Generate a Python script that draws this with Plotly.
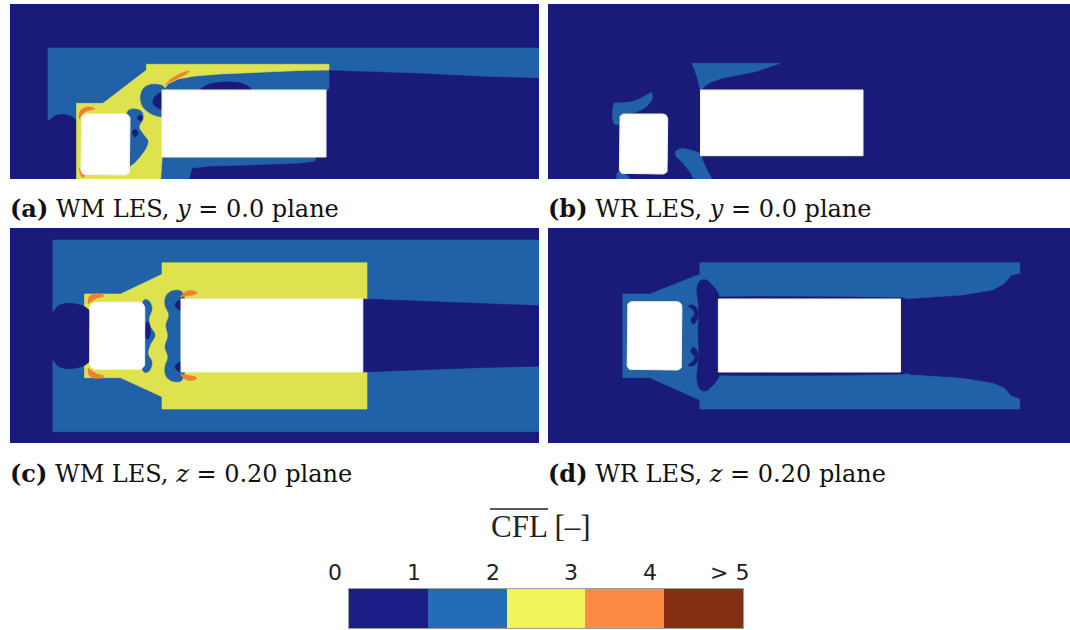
import math
import plotly.graph_objects as go

W, H = 1070, 630

# ---------------- data ----------------
CFL_LEVELS = [0, 1, 2, 3, 4]
CFL_TICK_LABELS = ["0", "1", "2", "3", "4", "> 5"]
FIELD_COLORS = ["#1a1a7b", "#2161a8", "#dee24e", "#ef7e36", "#852e12"]
CBAR_COLORS = ["#1c1c86", "#246cb6", "#f2f55a", "#fe8b43", "#852e12"]

PANEL_BOXES = [(10, 539, 4, 179), (548, 1070, 4, 179), (10, 539, 228, 443), (548, 1070, 228, 443)]
PANEL_CAPTIONS = [
    "<b>(a)</b> WM LES, <i>y</i> = 0.0 plane",
    "<b>(b)</b> WR LES, <i>y</i> = 0.0 plane",
    "<b>(c)</b> WM LES, <i>z</i> = 0.20 plane",
    "<b>(d)</b> WR LES, <i>z</i> = 0.20 plane",
]

# Region outlines: (CFL level, smooth outline, x list, y list) in image pixel units
# ---- panel (a) ----
A_BLUE = (1, False, [48, 545, 545, 480, 420, 360, 329, 329, 326, 315, 300, 250, 210, 192, 186, 48],
          [48, 48, 78, 76, 73, 71, 70, 88, 92, 161, 163, 165, 166, 168, 190, 190])
A_DOME = (0, True, [40, 48, 55, 63, 71, 76.5, 78, 78, 40], [122, 121, 116, 114.5, 116.5, 121, 140, 195, 195])
A_YELLOW = (2, False, [76.5, 103, 146.5, 146.5, 329, 329, 300, 260, 220, 195, 178, 168, 162, 162, 160, 76.5],
            [103.3, 103.3, 70, 64.3, 64.3, 70, 70.5, 72, 74, 76, 79, 84, 92, 160, 190, 190])
A_NAVY_TOP = (0, True, [198, 205, 215, 230, 244, 252, 252, 198], [92, 86, 83, 82, 84, 90, 96, 96])
A_BLUE_B1 = (1, True, [164, 157, 149, 143, 140.5, 143, 150, 157, 164], [87, 84.5, 85, 89, 98, 107, 113, 116, 116])
A_NAVY_B1 = (0, True, [164, 158, 154, 153, 156, 160, 164], [92, 94, 98, 103, 107, 109, 109])
A_BLUE_B2 = (1, True, [128, 135, 142, 143, 139, 143, 148, 146, 142, 138, 133, 128],
             [111, 109, 112, 119, 127, 134, 141, 148, 154, 159, 164, 166])
A_NAVY_D1 = (0, True, [137, 140, 142.5, 140, 137], [118, 115, 118, 121, 118])
A_NAVY_D2 = (0, True, [132, 135, 138, 135, 132], [133, 129, 133, 137, 133])
A_ORANGE_1 = (3, True, [79, 80, 84, 90, 95, 90, 85, 81, 79], [119, 111, 108, 107, 109, 110, 112, 116, 119])
A_ORANGE_2 = (3, True, [165, 171, 180, 189, 187, 178, 169, 165], [85, 79, 74, 71, 73.5, 78, 83, 85])
A_ORANGE_3 = (3, True, [79, 81, 85, 82, 79], [168, 170, 176, 177, 168])
A_SQUARE = (81, 130, 114, 175, 5)
A_RECT = (162, 326, 90, 157, 0)

# ---- panel (b) ----
B_BLUE_TOP = (1, False, [692, 780, 756, 735, 722, 711, 705, 700.5, 699.5, 697.4, 694.7, 692],
              [63.3, 63.3, 71.5, 75.5, 78.3, 82, 86, 91, 86.7, 78, 70, 63.3])
B_BLUE_HOOK = (1, True, [614.3, 614.3, 620, 634, 645, 651.5, 652, 648, 641, 632, 622, 619.4, 619.4],
               [124, 103.3, 103, 101, 96, 92.5, 99, 105, 110, 113, 115, 118, 124])
B_BLUE_BOT = (1, True, [676, 682, 690, 700.5, 703, 707, 714, 699, 690, 681, 676],
              [151, 148.5, 150, 154, 161, 170, 186, 186, 172, 161, 156])
B_BLUE_SMALL = (1, True, [618, 623, 628, 630, 618], [172, 173, 176, 186, 186])
B_SQUARE = (619.4, 667.7, 114, 174, 5)
B_RECT = (700.5, 863, 90, 155.7, 0)

# ---- panel (c) ----
C_BLUE = (1, False, [52.8, 545, 545, 52.8], [240, 240, 431.7, 431.7])
C_YELLOW = (2, False, [84.5, 120.7, 162, 162, 367, 367, 162, 162, 120.7, 84.5],
            [294, 294, 274.3, 262.7, 262.7, 409, 409, 396.7, 377.7, 377.7])
C_WAKE = (0, False, [362.8, 413.8, 482.8, 545, 545, 482.8, 413.8, 362.8],
          [299, 301, 304.3, 306, 366, 367.5, 370, 372])
C_DOME = (0, True, [45, 52.8, 58, 66, 76, 85, 90, 90, 85, 76, 66, 58, 52.8, 45],
          [313, 312, 306, 303.5, 304, 307, 312, 360, 365, 368, 368.5, 366, 360, 359])
C_BLUE_STRIP = (1, True, [144, 149, 152, 149, 150, 155, 150, 148, 152, 149, 144],
                [300, 301, 309, 318, 326, 335, 345, 354, 362, 371, 372])
C_NAVY_STRIP = (0, True, [146, 148, 150.5, 148, 146], [323, 322, 331, 339, 338])
C_BLUE_BLOB = (1, True, [182, 172, 166, 165, 169, 166, 168, 165, 168, 165, 166, 172, 182],
               [292, 291, 296, 305, 315, 325, 336, 347, 357, 367, 376, 381, 380])
C_NAVY_D1 = (0, True, [182, 178, 175, 178, 182], [300, 301, 305, 309, 310])
C_NAVY_D2 = (0, True, [182, 178, 175, 178, 182], [362, 363, 367, 371, 372])
C_ORANGE_1 = (3, True, [88, 89, 94, 101, 104, 97, 92, 88], [304, 297, 294, 294, 296, 298, 301, 304])
C_ORANGE_2 = (3, True, [88, 89, 94, 101, 104, 97, 92, 88], [368, 375, 378, 378, 376, 374, 371, 368])
C_ORANGE_3 = (3, True, [180, 185, 192, 197, 193, 186, 180], [297, 292, 290.5, 293, 295, 296, 297])
C_ORANGE_4 = (3, True, [180, 185, 192, 197, 193, 186, 180], [374, 379, 380.5, 378, 376, 375, 374])
C_SQUARE = (89.7, 144.8, 302.3, 369.3, 6)
C_RECT = (181, 362.8, 299, 372, 0)

# ---- panel (d) ----
D_BLUE = (1, False,
          [699.8, 1019.7, 1019.7, 1011.3, 1004.5, 992.7, 962.3, 911.6, 900.5, 900.5, 911.6, 962.3, 992.7,
           1004.5, 1011, 1019.7, 1019.7, 699.8, 699.8, 649.8, 622.8, 622.8, 649.8, 699.8],
          [262.7, 262.7, 273.3, 275, 283.3, 290, 295, 297.7, 299, 372, 375, 378.3, 383.3,
           388.3, 396, 399, 409, 409, 400, 377.7, 377.7, 294, 294, 274.3])
D_NAVY_TOP = (0, False, [712, 760, 850, 905, 905, 712], [297, 296.6, 297, 298, 301, 301])
D_NAVY_BOT = (0, False, [712, 760, 850, 905, 905, 712], [375, 375.4, 375, 374, 370, 370])
D_NAVY_BLOB = (0, True, [719, 712, 706, 700, 697, 698, 699, 698, 699, 698, 697, 700, 706, 712, 719],
               [296, 285, 280, 281, 288, 300, 315, 330, 350, 365, 380, 389, 391, 386, 376])
D_NAVY_C1 = (0, True, [688, 693, 698, 697, 693, 691, 695, 692, 688], [306, 305, 311, 320, 324, 319, 314, 309, 306])
D_NAVY_C2 = (0, True, [688, 693, 698, 697, 693, 691, 695, 692, 688], [365, 366, 360, 351, 347, 352, 357, 362, 365])
D_SQUARE = (627.2, 681.9, 301.7, 370, 5)
D_RECT = (718.4, 900.5, 299, 372, 0)

PANEL_REGIONS = [
    [A_BLUE, A_DOME, A_YELLOW, A_NAVY_TOP, A_BLUE_B1, A_NAVY_B1, A_BLUE_B2, A_NAVY_D1, A_NAVY_D2,
     A_ORANGE_1, A_ORANGE_2, A_ORANGE_3],
    [B_BLUE_TOP, B_BLUE_HOOK, B_BLUE_BOT, B_BLUE_SMALL],
    [C_BLUE, C_YELLOW, C_WAKE, C_DOME, C_BLUE_STRIP, C_NAVY_STRIP, C_BLUE_BLOB, C_NAVY_D1, C_NAVY_D2,
     C_ORANGE_1, C_ORANGE_2, C_ORANGE_3, C_ORANGE_4],
    [D_BLUE, D_NAVY_TOP, D_NAVY_BOT, D_NAVY_BLOB, D_NAVY_C1, D_NAVY_C2],
]
PANEL_OBSTACLES = [[A_SQUARE, A_RECT], [B_SQUARE, B_RECT], [C_SQUARE, C_RECT], [D_SQUARE, D_RECT]]


# ---------------- helpers ----------------
def rounded_box(x0, x1, y0, y1, r):
    if r <= 0:
        return [x0, x1, x1, x0], [y0, y0, y1, y1]
    xs, ys = [], []
    corners = [(x1 - r, y0 + r, -90), (x1 - r, y1 - r, 0), (x0 + r, y1 - r, 90), (x0 + r, y0 + r, 180)]
    for cx, cy, a0 in corners:
        for k in range(7):
            a = math.radians(a0 + 15 * k)
            xs.append(cx + r * math.cos(a))
            ys.append(cy + r * math.sin(a))
    return xs, ys


def ax_name(i, kind):
    return kind if i == 1 else f"{kind}{i}"


fig = go.Figure()

for i, (box, regions, obstacles) in enumerate(zip(PANEL_BOXES, PANEL_REGIONS, PANEL_OBSTACLES), start=1):
    x0, x1, y0, y1 = box
    xa, ya = ax_name(i, "x"), ax_name(i, "y")
    layers = [(0, False, [x0 - 5, x1 + 5, x1 + 5, x0 - 5], [y0 - 5, y0 - 5, y1 + 5, y1 + 5])] + regions
    for level, smooth, xs, ys in layers:
        col = FIELD_COLORS[level]
        fig.add_trace(go.Scatter(
            x=list(xs) + [xs[0]], y=list(ys) + [ys[0]], xaxis=xa, yaxis=ya,
            mode="lines", fill="toself", fillcolor=col,
            line=dict(color=col, width=0.6, shape="spline" if smooth else "linear", smoothing=1.0),
            hoverinfo="skip", showlegend=False))
    for bx0, bx1, by0, by1, r in obstacles:
        xs, ys = rounded_box(bx0, bx1, by0, by1, r)
        fig.add_trace(go.Scatter(
            x=xs + [xs[0]], y=ys + [ys[0]], xaxis=xa, yaxis=ya,
            mode="lines", fill="toself", fillcolor="white",
            line=dict(color="#f4f4f4", width=1),
            hoverinfo="skip", showlegend=False))

# colour bar
n = len(CFL_LEVELS)
cscale = []
for k, c in enumerate(CBAR_COLORS):
    cscale.append([k / n, c])
    cscale.append([(k + 1) / n, c])
fig.add_trace(go.Heatmap(z=[CFL_LEVELS], x=CFL_LEVELS, y=[0], zmin=-0.5, zmax=n - 0.5,
                         colorscale=cscale, showscale=False, hoverinfo="skip",
                         xaxis="x5", yaxis="y5"))

layout = dict(width=W, height=H, margin=dict(l=0, r=0, t=0, b=0),
              paper_bgcolor="white", plot_bgcolor="white", showlegend=False)
for i, (x0, x1, y0, y1) in enumerate(PANEL_BOXES, start=1):
    xk = "xaxis" if i == 1 else f"xaxis{i}"
    yk = "yaxis" if i == 1 else f"yaxis{i}"
    layout[xk] = dict(domain=[x0 / W, x1 / W], range=[x0, x1], visible=False, anchor=ax_name(i, "y"))
    layout[yk] = dict(domain=[1 - y1 / H, 1 - y0 / H], range=[y1, y0], visible=False, anchor=ax_name(i, "x"))

CB_X0, CB_X1, CB_Y0, CB_Y1 = 349, 743, 589, 628
layout["xaxis5"] = dict(domain=[CB_X0 / W, CB_X1 / W], range=[-0.5, n - 0.5], showgrid=False, zeroline=False,
                        showticklabels=False, ticks="", showline=True, mirror=True, linecolor="#a0a0a0",
                        linewidth=1, anchor="y5")
layout["yaxis5"] = dict(domain=[1 - CB_Y1 / H, 1 - CB_Y0 / H], range=[-0.5, 0.5], showgrid=False, zeroline=False,
                        showticklabels=False, ticks="", showline=True, mirror=True, linecolor="#a0a0a0",
                        linewidth=1, anchor="x5")
fig.update_layout(**layout)

annotations = []
cap_pos = [(8, 209), (546, 209), (8, 473), (546, 473)]
for (cx, cy), txt in zip(cap_pos, PANEL_CAPTIONS):
    annotations.append(dict(x=cx / W, y=1 - cy / H, xref="paper", yref="paper", text=txt, showarrow=False,
                            xanchor="left", yanchor="middle",
                            font=dict(family="DejaVu Serif", size=24, color="#111")))
seg = (CB_X1 - CB_X0) / n
for k, lab in enumerate(CFL_TICK_LABELS):
    px = CB_X0 + k * seg - 14
    annotations.append(dict(x=px / W, y=1 - 572 / H, xref="paper", yref="paper", text=lab, showarrow=False,
                            xanchor="center", yanchor="middle",
                            font=dict(family="DejaVu Sans", size=22, color="#222")))
annotations.append(dict(x=541 / W, y=1 - 526 / H, xref="paper", yref="paper", text="CFL [–]", showarrow=False,
                        xanchor="center", yanchor="middle",
                        font=dict(family="Liberation Serif", size=31, color="#222")))
fig.update_layout(annotations=annotations)
fig.add_shape(type="line", xref="paper", yref="paper", x0=490 / W, x1=548 / W, y0=1 - 509 / H, y1=1 - 509 / H,
              line=dict(color="#222", width=1.5))

fig.write_html("out.html", config={"displayModeBar": False},
               post_script="document.body.style.margin='0';document.body.style.overflow='hidden';")
